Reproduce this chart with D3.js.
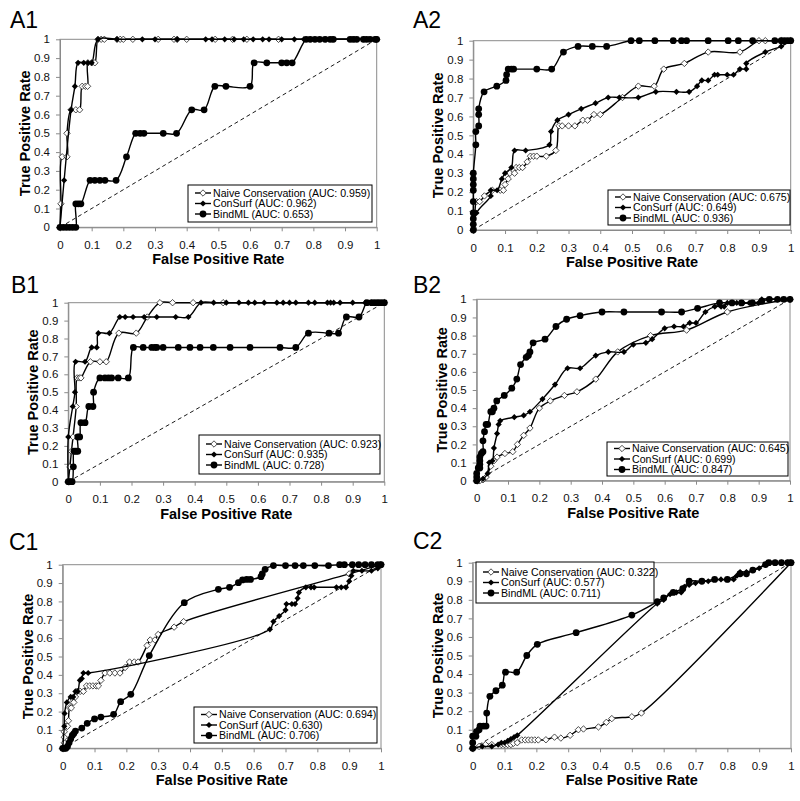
<!DOCTYPE html>
<html><head><meta charset="utf-8">
<script src="https://cdn.jsdelivr.net/npm/d3@7"></script>
<style>body{margin:0;background:#fff} svg{display:block}</style>
</head><body><svg id="c" width="800" height="801"></svg>
<script>
// ---------- shared labels ----------
const tickVals = [0,0.1,0.2,0.3,0.4,0.5,0.6,0.7,0.8,0.9,1];
const tickLabels = ["0","0.1","0.2","0.3","0.4","0.5","0.6","0.7","0.8","0.9","1"];
const seriesNames = ["Naive Conservation","ConSurf","BindML"];
const xTitle = "False Positive Rate";
const yTitle = "True Positive Rate";
const panelLabels = ["A1","A2","B1","B2","C1","C2"];

// ---------- AUC values ----------
const a1AUC = ["0.959","0.962","0.653"];
const a2AUC = ["0.675","0.649","0.936"];
const b1AUC = ["0.923","0.935","0.728"];
const b2AUC = ["0.645","0.699","0.847"];
const c1AUC = ["0.694","0.630","0.706"];
const c2AUC = ["0.322","0.577","0.711"];

// ---------- A1 ----------
const a1Naive = [[0,0],[0.003,0.125],[0.007,0.375],[0.022,0.375],[0.022,0.5],[0.035,0.625],[0.05,0.625],[0.062,0.625],[0.07,0.75],[0.08,0.75],[0.087,0.75],[0.088,0.875],[0.1,0.875],[0.11,0.875],[0.12,1],[0.13,1],[0.14,1],[0.18,1],[0.19,1],[0.2,1],[0.23,1],[0.31,1],[0.36,1],[0.37,1],[0.4,1],[0.49,1],[0.545,1],[0.59,1],[0.69,1],[1,1]];
const a1ConSurf = [[0,0],[0.013,0.25],[0.035,0.625],[0.047,0.75],[0.057,0.875],[0.075,0.875],[0.088,0.875],[0.1,0.875],[0.12,1],[0.18,1],[0.26,1],[0.3,1],[0.37,1],[0.46,1],[0.48,1],[0.52,1],[0.55,1],[0.58,1],[0.61,1],[0.64,1],[0.66,1],[0.7,1],[0.74,1],[0.77,1],[0.84,1],[0.86,1],[0.93,1],[0.96,1],[1,1]];
const a1BindML = [[0,0],[0.01,0],[0.02,0],[0.03,0],[0.04,0],[0.05,0],[0.05,0.125],[0.058,0.125],[0.066,0.125],[0.095,0.25],[0.11,0.25],[0.126,0.25],[0.142,0.25],[0.177,0.25],[0.21,0.375],[0.239,0.5],[0.253,0.5],[0.265,0.5],[0.326,0.5],[0.368,0.5],[0.416,0.625],[0.455,0.625],[0.489,0.75],[0.524,0.75],[0.6,0.75],[0.613,0.875],[0.653,0.875],[0.7,0.875],[0.716,0.875],[0.733,0.875],[0.777,1],[0.79,1],[0.805,1],[0.82,1],[0.837,1],[0.853,1],[0.863,1],[0.916,1],[0.926,1],[0.937,1],[0.958,1],[0.968,1],[0.979,1],[0.995,1],[1,1]];

// ---------- A2 ----------
const a2Naive = [[0,0],[0.005,0.09],[0.01,0.15],[0.02,0.15],[0.035,0.18],[0.06,0.21],[0.085,0.21],[0.095,0.21],[0.1,0.24],[0.11,0.27],[0.115,0.3],[0.13,0.3],[0.135,0.33],[0.145,0.33],[0.155,0.33],[0.17,0.36],[0.18,0.39],[0.19,0.39],[0.2,0.39],[0.23,0.39],[0.26,0.42],[0.27,0.55],[0.28,0.55],[0.3,0.55],[0.32,0.55],[0.345,0.58],[0.36,0.58],[0.38,0.61],[0.4,0.61],[0.47,0.7],[0.52,0.76],[0.57,0.76],[0.6,0.85],[0.665,0.88],[0.74,0.94],[0.84,0.94],[0.9,1],[0.92,1],[0.97,1],[1,1]];
const a2ConSurf = [[0,0],[0.01,0.09],[0.055,0.18],[0.055,0.21],[0.075,0.21],[0.09,0.27],[0.1,0.3],[0.12,0.33],[0.13,0.42],[0.165,0.42],[0.24,0.45],[0.245,0.52],[0.265,0.58],[0.3,0.61],[0.34,0.64],[0.385,0.67],[0.425,0.7],[0.46,0.7],[0.52,0.7],[0.575,0.73],[0.64,0.73],[0.68,0.73],[0.705,0.76],[0.72,0.79],[0.74,0.79],[0.76,0.82],[0.77,0.82],[0.8,0.82],[0.82,0.82],[0.84,0.85],[0.86,0.85],[0.86,0.88],[0.92,0.94],[0.97,0.97],[1,1]];
const a2BindML = [[0,0],[0,0.03],[0,0.06],[0,0.09],[0,0.15],[0,0.21],[0,0.24],[0,0.27],[0,0.3],[0.008,0.45],[0.008,0.52],[0.017,0.55],[0.017,0.61],[0.017,0.64],[0.034,0.73],[0.074,0.76],[0.103,0.79],[0.105,0.82],[0.11,0.85],[0.12,0.85],[0.127,0.85],[0.2,0.85],[0.247,0.85],[0.284,0.94],[0.33,0.97],[0.375,0.97],[0.42,0.97],[0.497,1],[0.523,1],[0.572,1],[0.63,1],[0.656,1],[0.672,1],[0.74,1],[0.803,1],[0.835,1],[0.88,1],[0.95,1],[0.97,1],[0.98,1],[0.99,1],[1,1]];

// ---------- B1 ----------
const b1Naive = [[0,0],[0.005,0.083],[0.01,0.17],[0.015,0.25],[0.025,0.42],[0.028,0.58],[0.035,0.58],[0.04,0.58],[0.07,0.67],[0.1,0.67],[0.12,0.67],[0.16,0.83],[0.215,0.83],[0.25,0.92],[0.29,1],[0.33,1],[0.395,1],[0.49,1],[1,1]];
const b1ConSurf = [[0,0],[0,0.25],[0.014,0.42],[0.021,0.5],[0.023,0.67],[0.053,0.67],[0.074,0.75],[0.09,0.75],[0.095,0.83],[0.13,0.83],[0.163,0.92],[0.18,0.92],[0.205,0.92],[0.24,0.92],[0.28,0.92],[0.34,0.92],[0.38,0.92],[0.42,1],[0.46,1],[0.5,1],[0.54,1],[0.57,1],[0.59,1],[0.62,1],[0.66,1],[0.68,1],[0.7,1],[0.72,1],[0.76,1],[0.78,1],[0.82,1],[0.83,1],[0.84,1],[0.86,1],[0.9,1],[0.94,1],[0.96,1],[0.98,1],[1,1]];
const b1BindML = [[0,0],[0.006,0],[0.012,0],[0.016,0.083],[0.018,0.17],[0.024,0.17],[0.03,0.17],[0.03,0.25],[0.036,0.25],[0.04,0.33],[0.053,0.33],[0.065,0.42],[0.078,0.42],[0.08,0.5],[0.1,0.58],[0.116,0.58],[0.127,0.58],[0.137,0.58],[0.158,0.58],[0.19,0.58],[0.206,0.75],[0.237,0.75],[0.264,0.75],[0.274,0.75],[0.28,0.75],[0.3,0.75],[0.348,0.75],[0.385,0.75],[0.417,0.75],[0.459,0.75],[0.512,0.75],[0.575,0.75],[0.67,0.75],[0.72,0.75],[0.76,0.83],[0.825,0.83],[0.855,0.83],[0.88,0.92],[0.92,0.92],[0.945,1],[0.96,1],[0.97,1],[0.98,1],[0.99,1],[1,1]];

// ---------- B2 ----------
const b2Naive = [[0,0],[0.01,0],[0.02,0.005],[0.03,0.02],[0.045,0.08],[0.055,0.11],[0.065,0.13],[0.09,0.15],[0.115,0.16],[0.13,0.2],[0.15,0.25],[0.17,0.29],[0.2,0.4],[0.235,0.44],[0.28,0.47],[0.32,0.49],[0.38,0.56],[0.45,0.71],[0.555,0.8],[0.67,0.83],[0.8,0.93],[1,1]];
const b2ConSurf = [[0,0],[0.02,0.01],[0.035,0.04],[0.04,0.1],[0.05,0.11],[0.055,0.18],[0.065,0.26],[0.07,0.31],[0.075,0.33],[0.12,0.35],[0.15,0.36],[0.17,0.38],[0.21,0.45],[0.25,0.53],[0.29,0.62],[0.33,0.62],[0.38,0.69],[0.42,0.71],[0.47,0.71],[0.5,0.75],[0.54,0.76],[0.56,0.78],[0.6,0.84],[0.63,0.85],[0.66,0.85],[0.68,0.87],[0.7,0.87],[0.73,0.93],[0.76,0.96],[0.78,0.96],[0.79,0.96],[0.8,0.98],[0.83,0.98],[0.85,0.98],[0.87,0.98],[0.9,0.98],[0.91,1],[0.96,1],[1,1]];
const b2BindML = [[0,0],[0,0.02],[0,0.04],[0.005,0.07],[0.01,0.07],[0.01,0.09],[0.01,0.11],[0.01,0.13],[0.015,0.15],[0.02,0.16],[0.02,0.22],[0.025,0.27],[0.03,0.31],[0.035,0.31],[0.045,0.38],[0.05,0.38],[0.055,0.4],[0.064,0.44],[0.088,0.47],[0.112,0.51],[0.128,0.56],[0.14,0.64],[0.158,0.68],[0.165,0.69],[0.17,0.71],[0.18,0.76],[0.218,0.78],[0.253,0.85],[0.287,0.89],[0.33,0.91],[0.4,0.93],[0.47,0.93],[0.59,0.93],[0.654,0.93],[0.705,0.95],[0.775,0.98],[0.815,0.98],[0.845,0.98],[0.88,0.98],[0.91,0.99],[0.934,1],[0.96,1],[0.98,1],[1,1]];

// ---------- C1 ----------
const c1Naive = [[0,0],[0.005,0.03],[0.005,0.06],[0.005,0.09],[0.01,0.12],[0.015,0.12],[0.018,0.15],[0.022,0.22],[0.027,0.22],[0.03,0.25],[0.035,0.25],[0.04,0.28],[0.045,0.31],[0.055,0.31],[0.065,0.31],[0.075,0.34],[0.085,0.34],[0.095,0.34],[0.105,0.34],[0.112,0.34],[0.12,0.37],[0.133,0.41],[0.148,0.41],[0.164,0.41],[0.18,0.41],[0.196,0.44],[0.21,0.47],[0.225,0.47],[0.237,0.47],[0.265,0.56],[0.275,0.59],[0.29,0.59],[0.3,0.62],[0.35,0.66],[0.38,0.69],[0.9,0.95],[1,1]];
const c1ConSurf = [[0,0],[0.005,0.12],[0.006,0.19],[0.013,0.25],[0.025,0.28],[0.033,0.28],[0.04,0.31],[0.047,0.31],[0.054,0.37],[0.06,0.38],[0.065,0.41],[0.08,0.41],[0.651,0.648],[0.662,0.69],[0.68,0.72],[0.7,0.753],[0.703,0.786],[0.72,0.786],[0.73,0.786],[0.738,0.817],[0.742,0.848],[0.764,0.877],[0.78,0.877],[0.79,0.877],[0.86,0.877],[0.875,0.877],[0.89,0.877],[0.9,0.91],[0.907,0.94],[0.913,0.967],[0.94,0.967],[0.97,0.967],[0.99,0.98],[1,1]];
const c1BindML = [[0,0],[0.005,0],[0.01,0],[0.015,0.01],[0.02,0.03],[0.025,0.05],[0.03,0.07],[0.035,0.08],[0.04,0.094],[0.06,0.11],[0.077,0.136],[0.1,0.16],[0.12,0.17],[0.16,0.185],[0.182,0.254],[0.214,0.294],[0.272,0.505],[0.382,0.793],[0.489,0.866],[0.524,0.877],[0.552,0.902],[0.565,0.917],[0.578,0.92],[0.59,0.92],[0.623,0.935],[0.627,0.95],[0.636,0.975],[0.662,0.995],[0.7,0.995],[0.73,0.995],[0.756,0.995],[0.792,0.995],[0.835,0.995],[0.87,1],[0.885,1],[0.91,1],[0.93,1],[0.95,1],[0.97,1],[0.99,1],[1,1]];

// ---------- C2 ----------
const c2Naive = [[0,0],[0.02,0.01],[0.04,0.02],[0.06,0.02],[0.09,0.02],[0.1,0.02],[0.11,0.02],[0.12,0.02],[0.128,0.027],[0.14,0.03],[0.154,0.045],[0.165,0.045],[0.175,0.045],[0.185,0.045],[0.195,0.045],[0.206,0.045],[0.23,0.046],[0.257,0.06],[0.277,0.055],[0.306,0.07],[0.332,0.1],[0.348,0.104],[0.395,0.115],[0.42,0.14],[0.437,0.16],[0.5,0.17],[0.53,0.19],[1,1]];
const c2ConSurf = [[0,0],[0.03,0.01],[0.06,0.01],[0.08,0.02],[0.09,0.03],[0.1,0.03],[0.11,0.04],[0.12,0.05],[0.13,0.06],[0.14,0.07],[0.58,0.78],[0.6,0.8],[0.62,0.83],[0.64,0.84],[0.655,0.84],[0.665,0.87],[0.68,0.88],[0.7,0.89],[0.72,0.9],[0.74,0.9],[0.78,0.91],[0.8,0.91],[0.82,0.91],[0.83,0.93],[0.84,0.95],[0.86,0.95],[0.88,0.96],[0.9,0.97],[0.92,0.99],[0.935,1],[0.95,1],[0.97,1],[0.99,1],[1,1]];
const c2BindML = [[0,0],[0,0.03],[0,0.065],[0.01,0.065],[0.012,0.09],[0.02,0.1],[0.023,0.12],[0.034,0.12],[0.042,0.12],[0.044,0.19],[0.054,0.28],[0.073,0.31],[0.093,0.34],[0.103,0.41],[0.138,0.41],[0.17,0.5],[0.203,0.56],[0.325,0.623],[0.5,0.718],[0.58,0.79],[0.6,0.81],[0.63,0.84],[0.66,0.86],[0.68,0.9],[0.72,0.9],[0.76,0.91],[0.8,0.91],[0.84,0.94],[0.86,0.94],[0.88,0.96],[0.92,0.99],[0.93,1],[0.95,1],[0.97,1],[0.99,1],[1,1]];

// ---------- layout (pixels) ----------
const panels = [
  {label:panelLabels[0], series:[a1Naive,a1ConSurf,a1BindML], auc:a1AUC, plot:[60,39.3,376.7,227.3], title:[10,28], legend:[188,185,184,37]},
  {label:panelLabels[1], series:[a2Naive,a2ConSurf,a2BindML], auc:a2AUC, plot:[473.3,40.7,790.7,230], title:[413,28], legend:[608,190,182,35]},
  {label:panelLabels[2], series:[b1Naive,b1ConSurf,b1BindML], auc:b1AUC, plot:[68.3,302.7,384.3,481.7], title:[11,293], legend:[199,435,181,39]},
  {label:panelLabels[3], series:[b2Naive,b2ConSurf,b2BindML], auc:b2AUC, plot:[476.7,299.3,790,480.7], title:[413,293], legend:[607,442,181,34]},
  {label:panelLabels[4], series:[c1Naive,c1ConSurf,c1BindML], auc:c1AUC, plot:[62.7,564.7,381,748.3], title:[9,550], legend:[194,707,183,36]},
  {label:panelLabels[5], series:[c2Naive,c2ConSurf,c2BindML], auc:c2AUC, plot:[472.7,562.7,791,748.3], title:[413,549], legend:[476,562,178,41]}
];

const FONT = "'Liberation Sans', Arial, sans-serif";
const svg = d3.select("#c");
svg.append("rect").attr("width",800).attr("height",801).attr("fill","#fff");

function drawMarker(sel, type, cx, cy) {
  if (type === 2) {
    sel.append("circle").attr("cx",cx).attr("cy",cy).attr("r",3.4).attr("fill","#000");
  } else if (type === 1) {
    const s = 3.1;
    sel.append("path").attr("d",`M${cx},${cy-s}L${cx+s},${cy}L${cx},${cy+s}L${cx-s},${cy}Z`).attr("fill","#000");
  } else {
    const s = 3.2;
    sel.append("path").attr("d",`M${cx},${cy-s}L${cx+s},${cy}L${cx},${cy+s}L${cx-s},${cy}Z`)
      .attr("fill","#fff").attr("stroke","#222").attr("stroke-width",0.8);
  }
}

panels.forEach(p => {
  const [x0,y0,x1,y1] = p.plot;
  const x = d3.scaleLinear().domain([0,1]).range([x0,x1]);
  const y = d3.scaleLinear().domain([0,1]).range([y1,y0]);
  const g = svg.append("g");

  g.append("text").attr("x",p.title[0]).attr("y",p.title[1]).text(p.label)
    .attr("font-family",FONT).attr("font-size",23).attr("fill","#000");

  g.append("rect").attr("x",x0).attr("y",y0).attr("width",x1-x0).attr("height",y1-y0)
    .attr("fill","#fff").attr("stroke","#8a8a8a").attr("stroke-width",1);

  const xa = g.append("g").attr("transform",`translate(0,${y1})`)
    .call(d3.axisBottom(x).tickValues(tickVals).tickFormat((d,i)=>tickLabels[i]).tickSize(4).tickSizeOuter(0));
  const ya = g.append("g").attr("transform",`translate(${x0},0)`)
    .call(d3.axisLeft(y).tickValues(tickVals).tickFormat((d,i)=>tickLabels[i]).tickSize(4).tickSizeOuter(0));
  [xa,ya].forEach(a => {
    a.select(".domain").attr("stroke","#8a8a8a");
    a.selectAll(".tick line").attr("stroke","#8a8a8a");
    a.selectAll(".tick text").attr("font-family",FONT).attr("font-size",11.5).attr("fill","#111");
  });
  xa.selectAll(".tick text").attr("y",13.5);
  ya.selectAll(".tick text").attr("x",-10);

  g.append("text").attr("x",(x0+x1)/2).attr("y",y1+37).attr("text-anchor","middle")
    .attr("font-family",FONT).attr("font-weight","bold").attr("font-size",14.5).text(xTitle);
  g.append("text").attr("transform",`translate(${x0-30},${(y0+y1)/2}) rotate(-90)`).attr("text-anchor","middle")
    .attr("font-family",FONT).attr("font-weight","bold").attr("font-size",14.5).text(yTitle);

  g.append("line").attr("x1",x(0)).attr("y1",y(0)).attr("x2",x(1)).attr("y2",y(1))
    .attr("stroke","#000").attr("stroke-width",0.9).attr("stroke-dasharray","4,3");

  const line = d3.line().x(d=>x(d[0])).y(d=>y(d[1])).curve(d3.curveCatmullRom.alpha(0.5));
  p.series.forEach((data, si) => {
    g.append("path").attr("d",line(data)).attr("fill","none").attr("stroke","#000").attr("stroke-width",1.4);
    const mg = g.append("g");
    data.forEach(d => drawMarker(mg, si, x(d[0]), y(d[1])));
  });

  const [lx,ly,lw,lh] = p.legend;
  const lg = g.append("g");
  lg.append("rect").attr("x",lx).attr("y",ly).attr("width",lw).attr("height",lh)
    .attr("fill","#fff").attr("stroke","#000").attr("stroke-width",1);
  seriesNames.forEach((name, i) => {
    const cy = ly + lh/2 + (i-1)*10.5;
    lg.append("line").attr("x1",lx+7).attr("x2",lx+23).attr("y1",cy).attr("y2",cy)
      .attr("stroke","#000").attr("stroke-width",1.4);
    drawMarker(lg, i, lx+15, cy);
    lg.append("text").attr("x",lx+25).attr("y",cy).attr("dy","0.35em")
      .attr("font-family",FONT).attr("font-size",10.6).attr("fill","#000")
      .text(`${name} (AUC: ${p.auc[i]})`);
  });
});
</script>
</body></html>
